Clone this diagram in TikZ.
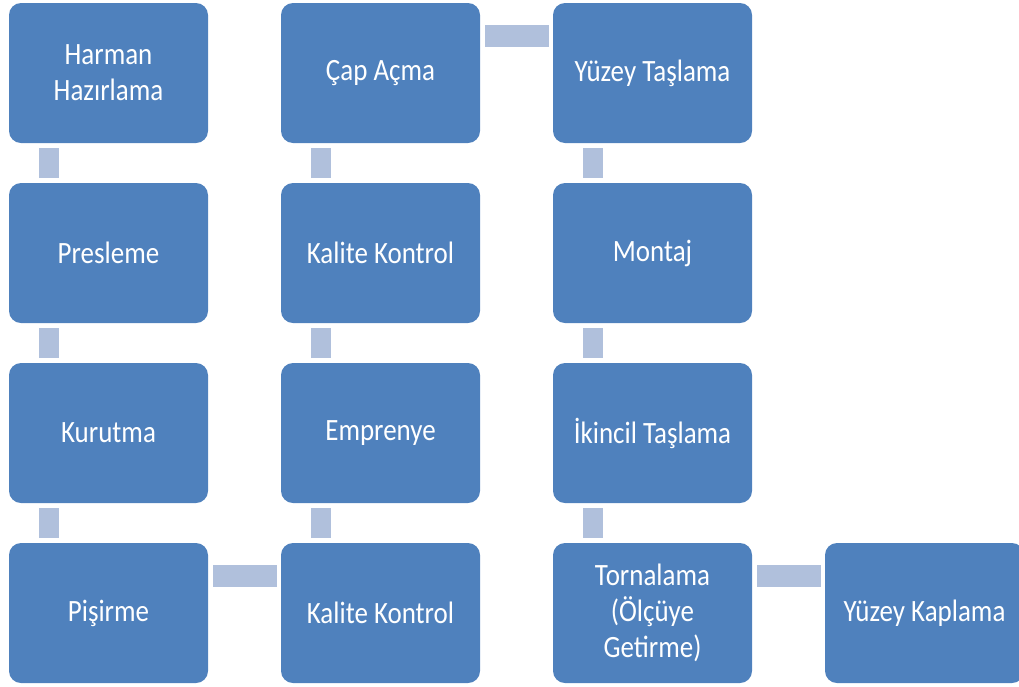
\documentclass[tikz,border=0pt]{standalone}
\usepackage{fontspec}
\setmainfont{Carlito}[FakeStretch=0.87]
\definecolor{boxblue}{RGB}{79,129,189}
\definecolor{connblue}{RGB}{176,192,220}
\tikzset{
  stepbox/.style={rectangle, rounded corners=12pt, fill=boxblue, text=white,
    minimum width=199pt, minimum height=140pt, inner sep=0pt, outer sep=0pt,
    align=center, font=\fontsize{31}{36}\selectfont, anchor=north west},
  vconn/.style={draw=connblue, line width=20pt, shorten <=5pt, shorten >=5pt},
  hconn/.style={draw=connblue, line width=22pt, shorten <=5pt, shorten >=4pt},
}
\begin{document}
\begin{tikzpicture}[x=1pt,y=-1pt]
\useasboundingbox (0,0) rectangle (1019,686);
% column 1
\node[stepbox] (a1) at (9,3) {Harman\\Hazırlama};
\node[stepbox] (a2) at (9,183) {Presleme};
\node[stepbox] (a3) at (9,363) {Kurutma};
\node[stepbox] (a4) at (9,543) {Pişirme};
% column 2
\node[stepbox] (b4) at (281,543) {Kalite Kontrol};
\node[stepbox] (b3) at (281,363) {Emprenye};
\node[stepbox] (b2) at (281,183) {Kalite Kontrol};
\node[stepbox] (b1) at (281,3) {Çap Açma};
% column 3
\node[stepbox] (c1) at (553,3) {Yüzey Taşlama};
\node[stepbox] (c2) at (553,183) {Montaj};
\node[stepbox] (c3) at (553,363) {İkincil Taşlama};
\node[stepbox] (c4) at (553,543) {Tornalama\\(Ölçüye\\Getirme)};
% column 4
\node[stepbox] (d4) at (825,543) {Yüzey Kaplama};
% connectors
\draw[vconn] ([xshift=39.5pt]a1.south west) -- ([xshift=39.5pt]a2.north west);
\draw[vconn] ([xshift=39.5pt]a2.south west) -- ([xshift=39.5pt]a3.north west);
\draw[vconn] ([xshift=39.5pt]a3.south west) -- ([xshift=39.5pt]a4.north west);
\draw[hconn] ([yshift=-33pt]a4.north east) -- ([yshift=-33pt]b4.north west);
\draw[vconn] ([xshift=39.5pt]b4.north west) -- ([xshift=39.5pt]b3.south west);
\draw[vconn] ([xshift=39.5pt]b3.north west) -- ([xshift=39.5pt]b2.south west);
\draw[vconn] ([xshift=39.5pt]b2.north west) -- ([xshift=39.5pt]b1.south west);
\draw[hconn] ([yshift=-33pt]b1.north east) -- ([yshift=-33pt]c1.north west);
\draw[vconn] ([xshift=39.5pt]c1.south west) -- ([xshift=39.5pt]c2.north west);
\draw[vconn] ([xshift=39.5pt]c2.south west) -- ([xshift=39.5pt]c3.north west);
\draw[vconn] ([xshift=39.5pt]c3.south west) -- ([xshift=39.5pt]c4.north west);
\draw[hconn] ([yshift=-33pt]c4.north east) -- ([yshift=-33pt]d4.north west);
\end{tikzpicture}
\end{document}
